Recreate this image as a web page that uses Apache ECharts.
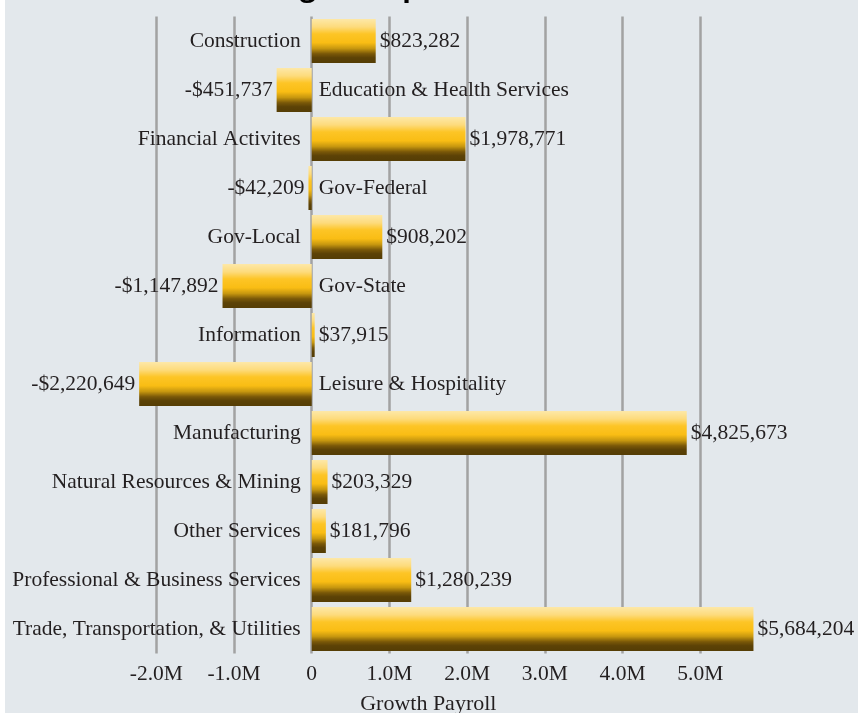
<!DOCTYPE html>
<html>
<head>
<meta charset="utf-8">
<script src="https://cdn.jsdelivr.net/npm/echarts@6/dist/echarts.min.js"></script>
<style>
html,body{margin:0;padding:0;background:#ffffff;}
#c{position:absolute;left:5px;top:0;width:853px;height:713px;}
</style>
</head>
<body>
<div id="c"></div>
<script>
const categories = ["Construction","Education & Health Services","Financial Activites","Gov-Federal","Gov-Local","Gov-State","Information","Leisure & Hospitality","Manufacturing","Natural Resources & Mining","Other Services","Professional & Business Services","Trade, Transportation, & Utilities"];
const values = [823282,-451737,1978771,-42209,908202,-1147892,37915,-2220649,4825673,203329,181796,1280239,5684204];
const axisName = "Growth Payroll";
const titleText = "Wage Comparison";

const FONT = "Liberation Serif";
const FS = 21.5;
const TXT = "#231f20";
function money(v){
  const s = "$" + Math.abs(v).toLocaleString("en-US");
  return v < 0 ? "-" + s : s;
}
const grad = new echarts.graphic.LinearGradient(0,0,0,1,[
  {offset:0, color:"#fde8a8"},
  {offset:0.18, color:"#fddb7c"},
  {offset:0.34, color:"#fdc526"},
  {offset:0.54, color:"#f9bd14"},
  {offset:0.67, color:"#c7970f"},
  {offset:0.79, color:"#7a5808"},
  {offset:0.88, color:"#5c4206"},
  {offset:1, color:"#553d05"}
]);
const chart = echarts.init(document.getElementById('c'), null, {renderer:'canvas'});
chart.setOption({
  backgroundColor:"#e3e8ec",
  animation:false,
  title:{text:titleText, left:246, top:-31, textStyle:{fontFamily:"Open Sans", fontWeight:'bold', fontSize:28, color:'#000'}},
  grid:{left:73.6, right:80, top:16.5, bottom:59.5, containLabel:false, outerBoundsMode:'none'},
  xAxis:{
    type:'value', min:-3000000, max:6000000, interval:1000000,
    name:axisName, nameLocation:'middle', nameGap:40,
    nameTextStyle:{fontFamily:FONT, fontSize:22, color:TXT},
    axisLine:{show:false}, axisTick:{show:false},
    axisLabel:{showMinLabel:false, showMaxLabel:false, margin:10, fontFamily:FONT, fontSize:FS, color:TXT,
      formatter:function(v){ return v===0 ? '0' : (v/1e6).toFixed(1)+'M'; }},
    splitLine:{show:true, showMinLine:false, showMaxLine:false, lineStyle:{color:'#a2a2a2', width:2.5}}
  },
  yAxis:{type:'category', inverse:true, data:categories, axisLabel:{show:false}, axisLine:{show:false}, axisTick:{show:false}, splitLine:{show:false}},
  series:[
    {
      type:'bar', barWidth:44, z:3,
      itemStyle:{color:grad},
      label:{show:true, distance:4, fontFamily:FONT, fontSize:FS, color:TXT, formatter:function(p){return money(p.value);}},
      data:values.map(v=>({value:v, label:{position: v>=0?'right':'left'}}))
    },
    {
      type:'bar', barWidth:44, barGap:'-100%', z:2, silent:true,
      itemStyle:{color:'rgba(0,0,0,0)'},
      label:{show:true, distance:10, fontFamily:FONT, fontSize:FS, color:TXT, formatter:function(p){return p.name;}},
      data:values.map(v=>({value:v, label:{position: v>=0?'left':'right', distance: v>=0?11:7}}))
    }
  ]
});
</script>
</body>
</html>
